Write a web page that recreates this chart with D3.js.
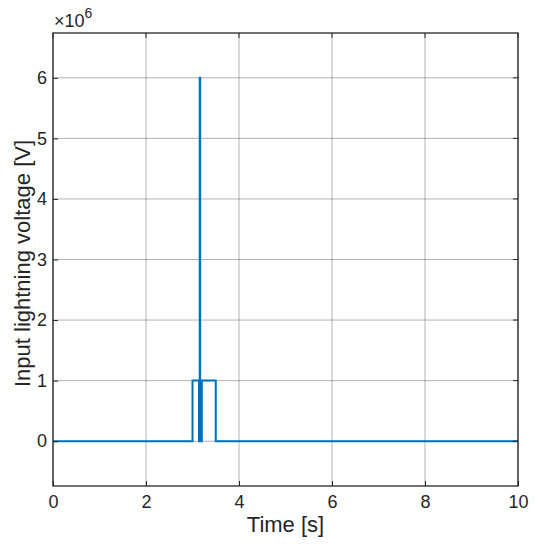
<!DOCTYPE html>
<html><head><meta charset="utf-8">
<script src="https://cdn.jsdelivr.net/npm/d3@7"></script>
<style>body{margin:0;background:#fff;} text{font-family:"Liberation Sans",Arial,sans-serif;}</style>
</head><body>
<svg id="c" width="535" height="550"></svg>
<script>
const timeValues = [0, 3.0, 3.0, 3.14, 3.14, 3.155, 3.155, 3.165, 3.165, 3.2, 3.2, 3.5, 3.5, 10];
const voltageValues = [0, 0, 1e6, 1e6, 0, 0, 6e6, 6e6, 0, 0, 1e6, 1e6, 0, 0];
const xTicks = [0, 2, 4, 6, 8, 10];
const yTicks = [0, 1, 2, 3, 4, 5, 6];
const yScaleFactor = 1e6;

const svg = d3.select("#c");
const L = 53, R = 518, T = 33, B = 486;
const x = d3.scaleLinear().domain([0, 10]).range([L, R]);
const y = d3.scaleLinear().domain([-0.74e6, 6.74e6]).range([B, T]);

// grid
const g = svg.append("g");
g.selectAll(".vg").data(xTicks).join("line")
  .attr("x1", d => x(d)).attr("x2", d => x(d)).attr("y1", T).attr("y2", B)
  .attr("stroke", "#262626").attr("stroke-opacity", 0.35).attr("stroke-width", 1);
g.selectAll(".hg").data(yTicks).join("line")
  .attr("x1", L).attr("x2", R).attr("y1", d => y(d * yScaleFactor)).attr("y2", d => y(d * yScaleFactor))
  .attr("stroke", "#262626").attr("stroke-opacity", 0.35).attr("stroke-width", 1);

// data line
const pts = timeValues.map((t, i) => [t, voltageValues[i]]);
svg.append("path").datum(pts)
  .attr("d", d3.line().x(d => x(d[0])).y(d => y(d[1])))
  .attr("fill", "none").attr("stroke", "#0072BD").attr("stroke-width", 2);

// axes
const xAxis = d3.axisBottom(x).tickValues(xTicks).tickSizeInner(-5).tickSizeOuter(0).tickPadding(9);
const yAxis = d3.axisLeft(y).tickValues(yTicks.map(v => v * yScaleFactor))
  .tickFormat(d => d / yScaleFactor).tickSizeInner(-5).tickSizeOuter(0).tickPadding(6);
const xa = svg.append("g").attr("transform", `translate(0,${B})`).call(xAxis);
const ya = svg.append("g").attr("transform", `translate(${L},0)`).call(yAxis);
[xa, ya].forEach(a => {
  a.attr("font-size", 18).attr("font-family", null);
  a.select(".domain").remove();
  a.selectAll("line").attr("stroke", "#262626");
  a.selectAll("text").attr("fill", "#262626").attr("font-size", 18).style("font-size", "18px");
});
// box
svg.append("rect").attr("x", L).attr("y", T).attr("width", R - L).attr("height", B - T)
  .attr("fill", "none").attr("stroke", "#262626").attr("stroke-width", 1.3);
// top/right ticks
svg.selectAll(".tt").data(xTicks).join("line")
  .attr("x1", d => x(d)).attr("x2", d => x(d)).attr("y1", T).attr("y2", T + 5).attr("stroke", "#262626");
svg.selectAll(".rt").data(yTicks).join("line")
  .attr("x1", R).attr("x2", R - 5).attr("y1", d => y(d * yScaleFactor)).attr("y2", d => y(d * yScaleFactor)).attr("stroke", "#262626");

// exponent
const ex = svg.append("text").attr("x", 54).attr("y", 27).attr("fill", "#262626").style("font-size", "18px");
ex.append("tspan").text("\u00d710");
ex.append("tspan").attr("dy", -9).style("font-size", "14px").text("6");

// labels
svg.append("text").attr("x", (L + R) / 2).attr("y", 532).attr("text-anchor", "middle")
  .attr("fill", "#262626").style("font-size", "22px").text("Time [s]");
svg.append("text").attr("transform", `translate(30,${(T + B) / 2 + 4}) rotate(-90)`)
  .attr("text-anchor", "middle").attr("fill", "#262626").style("font-size", "22px")
  .text("Input lightning voltage [V]");
</script>
</body></html>
